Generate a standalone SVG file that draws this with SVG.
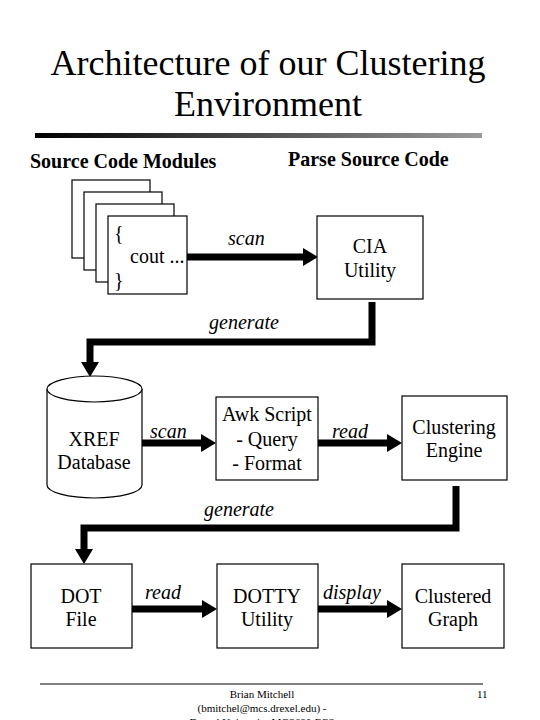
<svg xmlns="http://www.w3.org/2000/svg" width="540" height="720" viewBox="0 0 540 720">
<style>
.bx{fill:#fff;stroke:#000;stroke-width:1.2}
.t{font-family:"Liberation Serif","Times New Roman",serif;font-size:20px;fill:#000;text-anchor:middle}
.h{font-family:"Liberation Serif","Times New Roman",serif;font-size:20px;font-weight:bold;fill:#000}
.lb{font-family:"Liberation Serif","Times New Roman",serif;font-size:20px;font-style:italic;fill:#000}
.title{font-family:"Liberation Serif","Times New Roman",serif;font-size:36px;fill:#000;text-anchor:middle}
.ft{font-family:"Liberation Serif","Times New Roman",serif;font-size:11px;fill:#000}
.c{fill:none;stroke:#000;stroke-width:7;stroke-linejoin:miter}
</style>
<defs>
<linearGradient id="bar" x1="0" y1="0" x2="1" y2="0">
<stop offset="0" stop-color="#000"/>
<stop offset="1" stop-color="#9a9a9a"/>
</linearGradient>
<marker id="ah" markerUnits="userSpaceOnUse" markerWidth="16" markerHeight="18" refX="0" refY="9" orient="auto" overflow="visible">
<path d="M0,0 L15,9 L0,18 z" fill="#000"/>
</marker>
</defs>
<rect width="540" height="720" fill="#fff"/>
<g id="title">
<text class="title" x="268" y="75">Architecture of our Clustering</text>
<text class="title" x="268" y="116">Environment</text>
<rect x="35" y="133" width="447" height="5" fill="url(#bar)"/>
</g>
<g id="headings">
<text class="h" x="30" y="168">Source Code Modules</text>
<text class="h" x="288" y="166">Parse Source Code</text>
</g>
<g id="connectors">
<polyline class="c" points="187,257 303,257" marker-end="url(#ah)"/>
<polyline class="c" points="372,302 372,342 90,342 90,362" marker-end="url(#ah)"/>
<polyline class="c" points="142,443 201,443" marker-end="url(#ah)"/>
<polyline class="c" points="318,443 387,443" marker-end="url(#ah)"/>
<polyline class="c" points="456,486 456,528 84,528 84,549" marker-end="url(#ah)"/>
<polyline class="c" points="132,609 202,609" marker-end="url(#ah)"/>
<polyline class="c" points="318,609 387,609" marker-end="url(#ah)"/>
<text class="lb" x="228" y="245">scan</text>
<text class="lb" x="209" y="329">generate</text>
<text class="lb" x="150" y="438">scan</text>
<text class="lb" x="332" y="438">read</text>
<text class="lb" x="204" y="516">generate</text>
<text class="lb" x="145" y="599">read</text>
<text class="lb" x="323" y="599">display</text>
</g>
<g id="source">
<rect class="bx" x="72" y="180" width="78" height="78"/>
<rect class="bx" x="84" y="192" width="78" height="78"/>
<rect class="bx" x="96" y="204" width="78" height="78"/>
<rect class="bx" x="108" y="216" width="79" height="78"/>
<text class="t" x="114" y="240" text-anchor="start" style="text-anchor:start">{</text>
<text class="t" x="130" y="263" style="text-anchor:start">cout ...</text>
<text class="t" x="114" y="287" style="text-anchor:start">}</text>
</g>
<g id="cia">
<rect class="bx" x="317" y="216" width="106" height="83"/>
<text class="t" x="370" y="253">CIA</text>
<text class="t" x="370" y="277">Utility</text>
</g>
<g id="xref">
<path class="bx" d="M47,389 L47,485 A47.5,13 0 0 0 142,485 L142,389"/>
<ellipse class="bx" cx="94.5" cy="389" rx="47.5" ry="13"/>
<text class="t" x="94" y="446">XREF</text>
<text class="t" x="94" y="469">Database</text>
</g>
<g id="awk">
<rect class="bx" x="216" y="397" width="102" height="83"/>
<text class="t" x="267" y="421">Awk Script</text>
<text class="t" x="267" y="446">- Query</text>
<text class="t" x="267" y="470">- Format</text>
</g>
<g id="engine">
<rect class="bx" x="402" y="396" width="105" height="84"/>
<text class="t" x="454" y="434">Clustering</text>
<text class="t" x="454" y="457">Engine</text>
</g>
<g id="dot">
<rect class="bx" x="31" y="564" width="101" height="84"/>
<text class="t" x="81" y="603">DOT</text>
<text class="t" x="81" y="626">File</text>
</g>
<g id="dotty">
<rect class="bx" x="217" y="564" width="101" height="84"/>
<text class="t" x="267" y="603">DOTTY</text>
<text class="t" x="267" y="626">Utility</text>
</g>
<g id="graph">
<rect class="bx" x="402" y="564" width="102" height="84"/>
<text class="t" x="453" y="603">Clustered</text>
<text class="t" x="453" y="626">Graph</text>
</g>
<g id="footer">
<line x1="40" y1="684" x2="483" y2="684" stroke="#000" stroke-width="1.2"/>
<text class="ft" x="262" y="698" text-anchor="middle">Brian Mitchell</text>
<text class="ft" x="262" y="712" text-anchor="middle">(bmitchel@mcs.drexel.edu) -</text>
<text class="ft" x="262" y="726" text-anchor="middle">Drexel University MCS680-FCS</text>
<text class="ft" x="477" y="698">11</text>
</g>
</svg>
